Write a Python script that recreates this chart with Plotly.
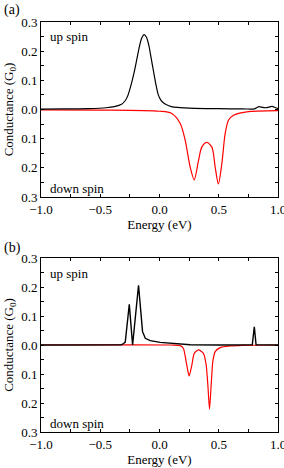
import plotly.graph_objects as go

# ---------------- data ----------------
# panel (a) up spin
a_up_E = [-1.0, -0.8, -0.6, -0.45, -0.38, -0.32, -0.29, -0.27, -0.25, -0.23, -0.21,
          -0.19, -0.17, -0.15, -0.13, -0.11, -0.09, -0.07, -0.05, -0.03, -0.01, 0.01,
          0.03, 0.06, 0.1, 0.15, 0.3, 0.5, 0.7, 0.8, 0.82, 0.84, 0.87, 0.895, 0.93,
          0.95, 0.98, 1.0]
a_up_G = [0.001, 0.002, 0.003, 0.006, 0.01, 0.018, 0.03, 0.045, 0.07, 0.10, 0.135,
          0.175, 0.215, 0.245, 0.257, 0.248, 0.22, 0.175, 0.13, 0.085, 0.05, 0.033,
          0.024, 0.016, 0.01, 0.007, 0.004, 0.003, 0.002, 0.002, 0.006, 0.01, 0.007,
          0.006, 0.009, 0.011, 0.006, 0.003]
# panel (a) down spin (magnitudes)
a_dn_E = [-1.0, -0.5, 0.0, 0.1, 0.175, 0.217, 0.259, 0.293, 0.329, 0.357, 0.40,
          0.442, 0.47, 0.497, 0.526, 0.554, 0.582, 0.624, 0.737, 1.0]
a_dn_G = [0.001, 0.002, 0.006, 0.013, 0.048, 0.106, 0.198, 0.241, 0.175, 0.129, 0.113,
          0.129, 0.198, 0.255, 0.186, 0.083, 0.037, 0.02, 0.008, 0.004]

# panel (b) up spin
b_up_E = [-1.0, -0.6, -0.32, -0.303, -0.289, -0.255, -0.227, -0.177, -0.143, -0.12,
          -0.078, 0.006, 0.147, 0.259, 0.5, 0.783, 0.80, 0.815, 1.0]
b_up_G = [0.0, 0.0, 0.001, 0.005, 0.01, 0.14, 0.0, 0.206, 0.046, 0.023,
          0.015, 0.009, 0.004, 0.001, 0.0, 0.001, 0.063, 0.001, 0.0]
# panel (b) down spin (magnitudes)
b_dn_E = [-1.0, 0.1, 0.175, 0.202, 0.225, 0.25, 0.273, 0.293, 0.329, 0.371, 0.394,
          0.408, 0.422, 0.436, 0.45, 0.47, 0.512, 0.596, 0.7, 1.0]
b_dn_G = [0.0, 0.0, 0.002, 0.012, 0.057, 0.107, 0.069, 0.029, 0.017, 0.029, 0.069,
          0.138, 0.221, 0.138, 0.057, 0.023, 0.009, 0.003, 0.001, 0.0]

x_ticks = [-1.0, -0.5, 0.0, 0.5, 1.0]
x_ticktext = ["\u22121.0", "\u22120.5", "0.0", "0.5", "1.0"]
y_ticks = [0.3, 0.2, 0.1, 0.0, -0.1, -0.2, -0.3]
y_ticktext = ["0.3", "0.2", "0.1", "0.0", "0.1", "0.2", "0.3"]
y_minor = [0.25, 0.15, 0.05, -0.05, -0.15, -0.25]
x_minor = [-0.75, -0.25, 0.25, 0.75]

FONT = "Liberation Serif, Times New Roman, serif"

fig = go.Figure()

def neg(v):
    return [-g for g in v]

# (a)
fig.add_trace(go.Scatter(x=a_dn_E, y=neg(a_dn_G), mode="lines", line=dict(color="#ff0000", width=1.2, shape="spline", smoothing=0.8),
                         xaxis="x", yaxis="y", showlegend=False, hoverinfo="skip"))
fig.add_trace(go.Scatter(x=a_up_E, y=a_up_G, mode="lines", line=dict(color="#000000", width=1.2, shape="spline", smoothing=0.8),
                         xaxis="x", yaxis="y", showlegend=False, hoverinfo="skip"))
# (b)
fig.add_trace(go.Scatter(x=b_dn_E, y=neg(b_dn_G), mode="lines", line=dict(color="#ff0000", width=1.2, shape="spline", smoothing=0.6),
                         xaxis="x2", yaxis="y2", showlegend=False, hoverinfo="skip"))
fig.add_trace(go.Scatter(x=b_up_E, y=b_up_G, mode="lines", line=dict(color="#000000", width=1.4),
                         xaxis="x2", yaxis="y2", showlegend=False, hoverinfo="skip"))

W, H = 284, 468
def px(x):
    return x / W
def py(y):
    return 1 - y / H

common_x = dict(range=[-1.0, 1.0], tickmode="array", tickvals=x_ticks, ticktext=x_ticktext,
                ticks="inside", ticklen=3, tickcolor="black", showline=True, linecolor="black",
                linewidth=1, mirror="allticks", showgrid=False, zeroline=False, automargin=False,
                ticklabeloverflow="allow",
                tickfont=dict(family=FONT, size=13, color="black"),
                minor=dict(tickmode="array", tickvals=x_minor, ticks="inside", ticklen=3, tickcolor="black", showgrid=False),
                title=dict(text="Energy (eV)", font=dict(family=FONT, size=13, color="black"), standoff=2))
common_y = dict(range=[-0.3, 0.3], tickmode="array", tickvals=y_ticks, ticktext=y_ticktext,
                ticks="inside", ticklen=3, tickcolor="black", showline=True, linecolor="black",
                linewidth=1, mirror="allticks", showgrid=False, zeroline=False, automargin=False,
                ticklabeloverflow="allow",
                tickfont=dict(family=FONT, size=13, color="black"),
                minor=dict(tickmode="array", tickvals=y_minor, ticks="inside", ticklen=3, tickcolor="black", showgrid=False),
                title=dict(text="Conductance (G<sub>0</sub>)", font=dict(family=FONT, size=13, color="black"), standoff=4))

fig.update_layout(
    width=W, height=H, margin=dict(l=0, r=0, t=0, b=0),
    paper_bgcolor="white", plot_bgcolor="white",
    font=dict(family=FONT, size=13, color="black"),
    xaxis=dict(common_x, domain=[px(41), px(278)], anchor="y"),
    yaxis=dict(common_y, domain=[py(197), py(22)], anchor="x"),
    xaxis2=dict(common_x, domain=[px(41), px(278)], anchor="y2"),
    yaxis2=dict(common_y, domain=[py(432), py(258)], anchor="x2"),
    annotations=[
        dict(text="(a)", x=px(2), y=py(10), xref="paper", yref="paper", xanchor="left", yanchor="middle",
             showarrow=False, font=dict(family=FONT, size=14, color="black")),
        dict(text="(b)", x=px(2), y=py(248), xref="paper", yref="paper", xanchor="left", yanchor="middle",
             showarrow=False, font=dict(family=FONT, size=14, color="black")),
        dict(text="up spin", x=px(48), y=py(37), xref="paper", yref="paper", xanchor="left", yanchor="middle",
             showarrow=False, font=dict(family=FONT, size=13, color="black")),
        dict(text="down spin", x=px(48), y=py(188), xref="paper", yref="paper", xanchor="left", yanchor="middle",
             showarrow=False, font=dict(family=FONT, size=13, color="black")),
        dict(text="up spin", x=px(48), y=py(273), xref="paper", yref="paper", xanchor="left", yanchor="middle",
             showarrow=False, font=dict(family=FONT, size=13, color="black")),
        dict(text="down spin", x=px(48), y=py(423), xref="paper", yref="paper", xanchor="left", yanchor="middle",
             showarrow=False, font=dict(family=FONT, size=13, color="black")),
    ],
)

fig.write_html("out.html", config={"displayModeBar": False},
               post_script="document.body.style.margin='0';document.body.style.padding='0';")
